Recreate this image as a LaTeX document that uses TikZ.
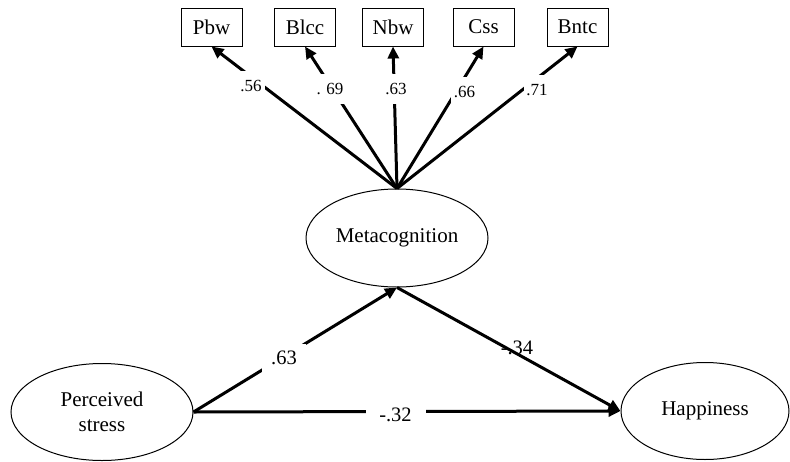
\documentclass[tikz,border=0pt]{standalone}
\usepackage{fontspec}
\setmainfont{Liberation Serif}
\usetikzlibrary{shapes.geometric,arrows.meta}
\begin{document}
\begin{tikzpicture}[x=1pt,y=-1pt,
  obs/.style={draw,line width=1pt,minimum width=61pt,minimum height=38pt,inner sep=0pt,font=\fontsize{21}{22}\selectfont},
  lat/.style={draw,ellipse,line width=1pt,inner sep=0pt,align=center,font=\fontsize{21}{25}\selectfont},
  conn/.style={line width=3pt,-{Triangle[length=12pt,width=11pt]}},
  toplab/.style={fill=white,inner sep=0pt,minimum width=27pt,minimum height=30pt,font=\fontsize{17}{18}\selectfont},
  botlab/.style={fill=white,inner sep=0pt,font=\fontsize{20.5}{22}\selectfont}
]
\useasboundingbox (0,0) rectangle (790,461);
\fill[white] (0,0) rectangle (790,461);

% indicator boxes
\node[obs] (pbw)  at (211.5,27) {Pbw};
\node[obs] (blcc) at (305,27)   {Blcc};
\node[obs] (nbw)  at (393,27)   {Nbw};
\node[obs] (css)  at (483.5,27) {Css};
\node[obs] (bntc) at (577.5,27) {Bntc};

% latent variables
\node[lat,minimum width=182pt,minimum height=98pt] (meta) at (397,238) {Metacognition};
\node[lat,minimum width=182pt,minimum height=97pt] (ps)   at (102,412) {Perceived\\stress};
\node[lat,minimum width=168pt,minimum height=97pt] (hap)  at (705,411) {Happiness};

% loadings
\draw[conn] (meta.north) -- (pbw.south);
\draw[conn] (meta.north) -- (blcc.south);
\draw[conn] (meta.north) -- (nbw.south);
\draw[conn] (meta.north) -- (css.south);
\draw[conn] (meta.north) -- (bntc.south);

\node[toplab] (l1) at (251,86) {.56};
\node[toplab,minimum width=33pt] (l2) at (330,89) {. 69};
\node[toplab] (l3) at (396,89) {.63};
\node[toplab] (l4) at (464.5,92) {.66};
\node[toplab] (l5) at (537,90) {.71};

% structural paths
\draw[conn] (ps.east) -- (meta.south);
\draw[conn] (meta.south) -- (hap.west);
\draw[conn] (ps.east) -- (hap.west);

\node[botlab,minimum width=44pt,minimum height=28pt] (b1) at (284,358) {.63};
\node[botlab,minimum width=60pt,minimum height=24pt] (b2) at (395.5,415) {-.32};
\node[inner sep=0pt,font=\fontsize{20.5}{22}\selectfont] (b3) at (517,348) {-.34};
\end{tikzpicture}
\end{document}
